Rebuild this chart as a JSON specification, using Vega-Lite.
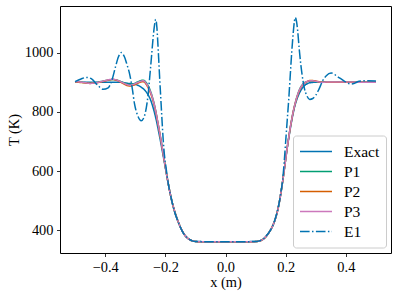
{
"$schema":"https://vega.github.io/schema/vega-lite/v6.json",
"width":331,"height":247,
"autosize":{"type":"none"},
"padding":{"left":60,"top":6,"right":7,"bottom":45},
"background":"white",
"data":{"values":[
{"s":"Exact","x":-0.5,"T":900},{"s":"Exact","x":-0.45,"T":900},{"s":"Exact","x":-0.4,"T":900},{"s":"Exact","x":-0.35,"T":900},{"s":"Exact","x":-0.33,"T":897},{"s":"Exact","x":-0.31,"T":894},{"s":"Exact","x":-0.29,"T":889},{"s":"Exact","x":-0.28,"T":883},{"s":"Exact","x":-0.27,"T":875},{"s":"Exact","x":-0.26,"T":862},{"s":"Exact","x":-0.25,"T":843},{"s":"Exact","x":-0.24,"T":812},{"s":"Exact","x":-0.23,"T":772},{"s":"Exact","x":-0.22,"T":722},{"s":"Exact","x":-0.21,"T":668},{"s":"Exact","x":-0.2,"T":612},{"s":"Exact","x":-0.19,"T":557},{"s":"Exact","x":-0.18,"T":507},{"s":"Exact","x":-0.17,"T":466},{"s":"Exact","x":-0.16,"T":436},{"s":"Exact","x":-0.15,"T":411},{"s":"Exact","x":-0.14,"T":391},{"s":"Exact","x":-0.13,"T":378},{"s":"Exact","x":-0.12,"T":370},{"s":"Exact","x":-0.11,"T":365},{"s":"Exact","x":-0.1,"T":363},{"s":"Exact","x":-0.05,"T":362},{"s":"Exact","x":0,"T":362},{"s":"Exact","x":0.05,"T":362},{"s":"Exact","x":0.1,"T":363},{"s":"Exact","x":0.11,"T":364},{"s":"Exact","x":0.12,"T":368},{"s":"Exact","x":0.13,"T":375},{"s":"Exact","x":0.14,"T":387},{"s":"Exact","x":0.15,"T":402},{"s":"Exact","x":0.16,"T":423},{"s":"Exact","x":0.17,"T":456},{"s":"Exact","x":0.18,"T":502},{"s":"Exact","x":0.19,"T":566},{"s":"Exact","x":0.2,"T":642},{"s":"Exact","x":0.21,"T":710},{"s":"Exact","x":0.22,"T":770},{"s":"Exact","x":0.23,"T":818},{"s":"Exact","x":0.24,"T":850},{"s":"Exact","x":0.25,"T":872},{"s":"Exact","x":0.26,"T":886},{"s":"Exact","x":0.27,"T":894},{"s":"Exact","x":0.28,"T":898},{"s":"Exact","x":0.3,"T":900},{"s":"Exact","x":0.35,"T":900},{"s":"Exact","x":0.4,"T":900},{"s":"Exact","x":0.5,"T":900},
{"s":"P1","x":-0.5,"T":901},{"s":"P1","x":-0.47,"T":899},{"s":"P1","x":-0.45,"T":897},{"s":"P1","x":-0.43,"T":899},{"s":"P1","x":-0.41,"T":903},{"s":"P1","x":-0.39,"T":907},{"s":"P1","x":-0.375,"T":909},{"s":"P1","x":-0.36,"T":907},{"s":"P1","x":-0.345,"T":901},{"s":"P1","x":-0.33,"T":895},{"s":"P1","x":-0.318,"T":892},{"s":"P1","x":-0.305,"T":895},{"s":"P1","x":-0.29,"T":902},{"s":"P1","x":-0.274,"T":907},{"s":"P1","x":-0.263,"T":898},{"s":"P1","x":-0.252,"T":877},{"s":"P1","x":-0.243,"T":850},{"s":"P1","x":-0.235,"T":818},{"s":"P1","x":-0.225,"T":765},{"s":"P1","x":-0.215,"T":708},{"s":"P1","x":-0.205,"T":646},{"s":"P1","x":-0.195,"T":585},{"s":"P1","x":-0.185,"T":530},{"s":"P1","x":-0.175,"T":486},{"s":"P1","x":-0.165,"T":452},{"s":"P1","x":-0.155,"T":424},{"s":"P1","x":-0.145,"T":401},{"s":"P1","x":-0.135,"T":384},{"s":"P1","x":-0.125,"T":373},{"s":"P1","x":-0.115,"T":367},{"s":"P1","x":-0.105,"T":364},{"s":"P1","x":-0.09,"T":362},{"s":"P1","x":0,"T":362},{"s":"P1","x":0.09,"T":362},{"s":"P1","x":0.105,"T":363},{"s":"P1","x":0.115,"T":365},{"s":"P1","x":0.125,"T":370},{"s":"P1","x":0.135,"T":380},{"s":"P1","x":0.145,"T":394},{"s":"P1","x":0.155,"T":412},{"s":"P1","x":0.165,"T":437},{"s":"P1","x":0.175,"T":475},{"s":"P1","x":0.185,"T":532},{"s":"P1","x":0.195,"T":602},{"s":"P1","x":0.205,"T":678},{"s":"P1","x":0.215,"T":745},{"s":"P1","x":0.225,"T":800},{"s":"P1","x":0.235,"T":842},{"s":"P1","x":0.245,"T":873},{"s":"P1","x":0.255,"T":891},{"s":"P1","x":0.265,"T":900},{"s":"P1","x":0.275,"T":903},{"s":"P1","x":0.285,"T":904},{"s":"P1","x":0.3,"T":902},{"s":"P1","x":0.32,"T":901},{"s":"P1","x":0.35,"T":900},{"s":"P1","x":0.4,"T":901},{"s":"P1","x":0.45,"T":901},{"s":"P1","x":0.5,"T":900},
{"s":"P2","x":-0.5,"T":901},{"s":"P2","x":-0.47,"T":898},{"s":"P2","x":-0.45,"T":896},{"s":"P2","x":-0.43,"T":898},{"s":"P2","x":-0.41,"T":902},{"s":"P2","x":-0.39,"T":907},{"s":"P2","x":-0.375,"T":909},{"s":"P2","x":-0.36,"T":906},{"s":"P2","x":-0.345,"T":898},{"s":"P2","x":-0.33,"T":890},{"s":"P2","x":-0.318,"T":887},{"s":"P2","x":-0.305,"T":890},{"s":"P2","x":-0.29,"T":897},{"s":"P2","x":-0.274,"T":902},{"s":"P2","x":-0.263,"T":892},{"s":"P2","x":-0.252,"T":870},{"s":"P2","x":-0.243,"T":845},{"s":"P2","x":-0.235,"T":815},{"s":"P2","x":-0.225,"T":764},{"s":"P2","x":-0.215,"T":707},{"s":"P2","x":-0.205,"T":646},{"s":"P2","x":-0.195,"T":585},{"s":"P2","x":-0.185,"T":530},{"s":"P2","x":-0.175,"T":486},{"s":"P2","x":-0.165,"T":452},{"s":"P2","x":-0.155,"T":424},{"s":"P2","x":-0.145,"T":401},{"s":"P2","x":-0.135,"T":384},{"s":"P2","x":-0.125,"T":373},{"s":"P2","x":-0.115,"T":367},{"s":"P2","x":-0.105,"T":364},{"s":"P2","x":-0.09,"T":362},{"s":"P2","x":0,"T":362},{"s":"P2","x":0.09,"T":362},{"s":"P2","x":0.105,"T":363},{"s":"P2","x":0.115,"T":365},{"s":"P2","x":0.125,"T":370},{"s":"P2","x":0.135,"T":380},{"s":"P2","x":0.145,"T":394},{"s":"P2","x":0.155,"T":412},{"s":"P2","x":0.165,"T":437},{"s":"P2","x":0.175,"T":475},{"s":"P2","x":0.185,"T":532},{"s":"P2","x":0.195,"T":602},{"s":"P2","x":0.205,"T":678},{"s":"P2","x":0.215,"T":745},{"s":"P2","x":0.225,"T":800},{"s":"P2","x":0.235,"T":841},{"s":"P2","x":0.245,"T":870},{"s":"P2","x":0.255,"T":889},{"s":"P2","x":0.265,"T":898},{"s":"P2","x":0.275,"T":904},{"s":"P2","x":0.285,"T":906},{"s":"P2","x":0.3,"T":904},{"s":"P2","x":0.32,"T":900},{"s":"P2","x":0.35,"T":900},{"s":"P2","x":0.4,"T":900},{"s":"P2","x":0.45,"T":900},{"s":"P2","x":0.5,"T":900},
{"s":"P3","x":-0.5,"T":902},{"s":"P3","x":-0.47,"T":899},{"s":"P3","x":-0.45,"T":896},{"s":"P3","x":-0.43,"T":898},{"s":"P3","x":-0.41,"T":903},{"s":"P3","x":-0.39,"T":908},{"s":"P3","x":-0.375,"T":910},{"s":"P3","x":-0.36,"T":907},{"s":"P3","x":-0.345,"T":900},{"s":"P3","x":-0.33,"T":893},{"s":"P3","x":-0.318,"T":890},{"s":"P3","x":-0.305,"T":893},{"s":"P3","x":-0.29,"T":900},{"s":"P3","x":-0.274,"T":905},{"s":"P3","x":-0.263,"T":895},{"s":"P3","x":-0.252,"T":874},{"s":"P3","x":-0.243,"T":848},{"s":"P3","x":-0.235,"T":817},{"s":"P3","x":-0.225,"T":765},{"s":"P3","x":-0.215,"T":708},{"s":"P3","x":-0.205,"T":646},{"s":"P3","x":-0.195,"T":585},{"s":"P3","x":-0.185,"T":530},{"s":"P3","x":-0.175,"T":486},{"s":"P3","x":-0.165,"T":452},{"s":"P3","x":-0.155,"T":424},{"s":"P3","x":-0.145,"T":401},{"s":"P3","x":-0.135,"T":384},{"s":"P3","x":-0.125,"T":373},{"s":"P3","x":-0.115,"T":367},{"s":"P3","x":-0.105,"T":364},{"s":"P3","x":-0.09,"T":362},{"s":"P3","x":0,"T":362},{"s":"P3","x":0.09,"T":362},{"s":"P3","x":0.105,"T":363},{"s":"P3","x":0.115,"T":365},{"s":"P3","x":0.125,"T":370},{"s":"P3","x":0.135,"T":380},{"s":"P3","x":0.145,"T":394},{"s":"P3","x":0.155,"T":412},{"s":"P3","x":0.165,"T":437},{"s":"P3","x":0.175,"T":475},{"s":"P3","x":0.185,"T":532},{"s":"P3","x":0.195,"T":602},{"s":"P3","x":0.205,"T":678},{"s":"P3","x":0.215,"T":745},{"s":"P3","x":0.225,"T":800},{"s":"P3","x":0.235,"T":842},{"s":"P3","x":0.245,"T":872},{"s":"P3","x":0.255,"T":890},{"s":"P3","x":0.265,"T":899},{"s":"P3","x":0.275,"T":904},{"s":"P3","x":0.285,"T":905},{"s":"P3","x":0.3,"T":903},{"s":"P3","x":0.32,"T":900},{"s":"P3","x":0.35,"T":901},{"s":"P3","x":0.4,"T":901},{"s":"P3","x":0.45,"T":900},{"s":"P3","x":0.5,"T":900},
{"s":"E1","x":-0.5,"T":902},{"s":"E1","x":-0.48,"T":911},{"s":"E1","x":-0.462,"T":916},{"s":"E1","x":-0.445,"T":911},{"s":"E1","x":-0.425,"T":890},{"s":"E1","x":-0.407,"T":876},{"s":"E1","x":-0.39,"T":881},{"s":"E1","x":-0.378,"T":905},{"s":"E1","x":-0.366,"T":950},{"s":"E1","x":-0.356,"T":985},{"s":"E1","x":-0.346,"T":1000},{"s":"E1","x":-0.336,"T":986},{"s":"E1","x":-0.327,"T":958},{"s":"E1","x":-0.318,"T":925},{"s":"E1","x":-0.31,"T":880},{"s":"E1","x":-0.302,"T":825},{"s":"E1","x":-0.292,"T":788},{"s":"E1","x":-0.28,"T":770},{"s":"E1","x":-0.27,"T":784},{"s":"E1","x":-0.263,"T":815},{"s":"E1","x":-0.257,"T":860},{"s":"E1","x":-0.252,"T":915},{"s":"E1","x":-0.246,"T":985},{"s":"E1","x":-0.241,"T":1045},{"s":"E1","x":-0.236,"T":1092},{"s":"E1","x":-0.232,"T":1112},{"s":"E1","x":-0.228,"T":1085},{"s":"E1","x":-0.225,"T":1035},{"s":"E1","x":-0.222,"T":978},{"s":"E1","x":-0.219,"T":918},{"s":"E1","x":-0.215,"T":845},{"s":"E1","x":-0.211,"T":772},{"s":"E1","x":-0.207,"T":705},{"s":"E1","x":-0.203,"T":655},{"s":"E1","x":-0.198,"T":615},{"s":"E1","x":-0.19,"T":557},{"s":"E1","x":-0.18,"T":507},{"s":"E1","x":-0.17,"T":466},{"s":"E1","x":-0.16,"T":436},{"s":"E1","x":-0.15,"T":411},{"s":"E1","x":-0.14,"T":391},{"s":"E1","x":-0.13,"T":378},{"s":"E1","x":-0.12,"T":370},{"s":"E1","x":-0.11,"T":365},{"s":"E1","x":-0.1,"T":363},{"s":"E1","x":-0.05,"T":362},{"s":"E1","x":0,"T":362},{"s":"E1","x":0.05,"T":362},{"s":"E1","x":0.1,"T":363},{"s":"E1","x":0.11,"T":364},{"s":"E1","x":0.12,"T":368},{"s":"E1","x":0.13,"T":375},{"s":"E1","x":0.14,"T":387},{"s":"E1","x":0.15,"T":402},{"s":"E1","x":0.16,"T":423},{"s":"E1","x":0.17,"T":456},{"s":"E1","x":0.18,"T":502},{"s":"E1","x":0.185,"T":535},{"s":"E1","x":0.19,"T":570},{"s":"E1","x":0.195,"T":630},{"s":"E1","x":0.2,"T":700},{"s":"E1","x":0.205,"T":770},{"s":"E1","x":0.21,"T":840},{"s":"E1","x":0.215,"T":920},{"s":"E1","x":0.22,"T":1000},{"s":"E1","x":0.225,"T":1065},{"s":"E1","x":0.229,"T":1105},{"s":"E1","x":0.232,"T":1118},{"s":"E1","x":0.236,"T":1105},{"s":"E1","x":0.24,"T":1072},{"s":"E1","x":0.245,"T":1012},{"s":"E1","x":0.25,"T":962},{"s":"E1","x":0.256,"T":915},{"s":"E1","x":0.262,"T":880},{"s":"E1","x":0.27,"T":855},{"s":"E1","x":0.28,"T":842},{"s":"E1","x":0.29,"T":845},{"s":"E1","x":0.3,"T":856},{"s":"E1","x":0.31,"T":875},{"s":"E1","x":0.323,"T":905},{"s":"E1","x":0.335,"T":922},{"s":"E1","x":0.351,"T":931},{"s":"E1","x":0.36,"T":928},{"s":"E1","x":0.37,"T":920},{"s":"E1","x":0.384,"T":911},{"s":"E1","x":0.4,"T":900},{"s":"E1","x":0.417,"T":894},{"s":"E1","x":0.43,"T":897},{"s":"E1","x":0.444,"T":903},{"s":"E1","x":0.47,"T":905},{"s":"E1","x":0.5,"T":904}
]},
"mark":{"type":"line","strokeWidth":1.5,"interpolate":"monotone","clip":true},
"encoding":{
"x":{"field":"x","type":"quantitative","scale":{"domain":[-0.55,0.55],"nice":false,"zero":false},"axis":{"values":[-0.4,-0.2,0,0.2,0.4],"format":".1f","title":"x (m)","titlePadding":2}},
"y":{"field":"T","type":"quantitative","scale":{"domain":[324,1157],"nice":false,"zero":false},"axis":{"values":[400,600,800,1000],"format":"d","title":"T (K)","titlePadding":3}},
"color":{"field":"s","type":"nominal","scale":{"domain":["Exact","P1","P2","P3","E1"],"range":["#0173b2","#029e73","#d55e00","#cc78bc","#0173b2"]},
"legend":{"title":null,"orient":"none","legendX":233,"legendY":129.5,"symbolType":"stroke","symbolSize":1024,"symbolStrokeWidth":1.5,"labelFontSize":15.5,"labelFont":"Liberation Serif","labelColor":"#000","labelOffset":11,"clipHeight":20,"rowPadding":0,"padding":6,"strokeColor":"#cccccc","fillColor":"#ffffff","cornerRadius":3}},
"strokeDash":{"field":"s","type":"nominal","scale":{"domain":["Exact","P1","P2","P3","E1"],"range":[[1,0],[1,0],[1,0],[1,0],[9.6,2.4,1.5,2.4]]},
"legend":{"title":null,"orient":"none","legendX":233,"legendY":129.5,"symbolType":"stroke","symbolSize":1024,"symbolStrokeWidth":1.5,"labelFontSize":15.5,"labelFont":"Liberation Serif","labelColor":"#000","labelOffset":11,"clipHeight":20,"rowPadding":0,"padding":6,"strokeColor":"#cccccc","fillColor":"#ffffff","cornerRadius":3}}
},
"config":{
"font":"Liberation Serif",
"view":{"stroke":"#000","strokeWidth":1},
"axis":{"grid":false,"domain":false,"tickColor":"#000","tickSize":3.5,"tickWidth":0.8,"labelFont":"Liberation Serif","labelFontSize":14.4,"labelColor":"#000","labelPadding":3.5,"titleFont":"Liberation Serif","titleFontSize":14.4,"titleFontWeight":"normal","titleColor":"#000"}
}
}
